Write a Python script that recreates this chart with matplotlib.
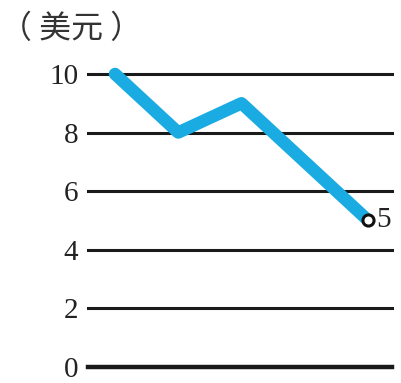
import numpy as np
import matplotlib
matplotlib.use("Agg")
import matplotlib.pyplot as plt

# price in dollars over time
x_pos = [0, 1, 2, 4]
prices = [10, 8, 9, 5]
y_ticks = [0, 2, 4, 6, 8, 10]
unit_label = "（ 美元 ）"

fig = plt.figure(figsize=(4.02, 3.83), dpi=100)
ax = fig.add_axes([0.2189, 0.043, 0.7562, 0.7638])
ax.set_xlim(-0.427, 4.38)
ax.set_ylim(0, 10)

# horizontal rules at each tick, bottom one heavier
for y in y_ticks:
    ax.axhline(y, color="#1a1a1a", lw=3.2 if y == 0 else 2.2, zorder=1, clip_on=False)

ax.plot(x_pos, prices, color="#1aabe2", lw=9, solid_capstyle="round",
        solid_joinstyle="round", zorder=3, clip_on=False)
ax.plot(x_pos[-1], prices[-1], "o", ms=8, mfc="white", mec="#111111", mew=2.2,
        zorder=4, clip_on=False)
ax.text(x_pos[-1] + 0.13, prices[-1], str(prices[-1]), fontsize=21,
        family="Liberation Serif", va="center", ha="left", color="#222222")

ax.set_yticks(y_ticks)
ax.set_yticklabels([str(v) for v in y_ticks], fontsize=21, family="Liberation Serif",
                   color="#222222")
ax.tick_params(axis="y", length=0, pad=7)
ax.set_xticks([])
for s in ax.spines.values():
    s.set_visible(False)

fig.text(0.0, 0.925, unit_label, fontsize=23, va="center", ha="left",
         family=["Noto Sans CJK SC", "DejaVu Sans"], color="#333333")

fig.savefig("out.png", dpi=100)
